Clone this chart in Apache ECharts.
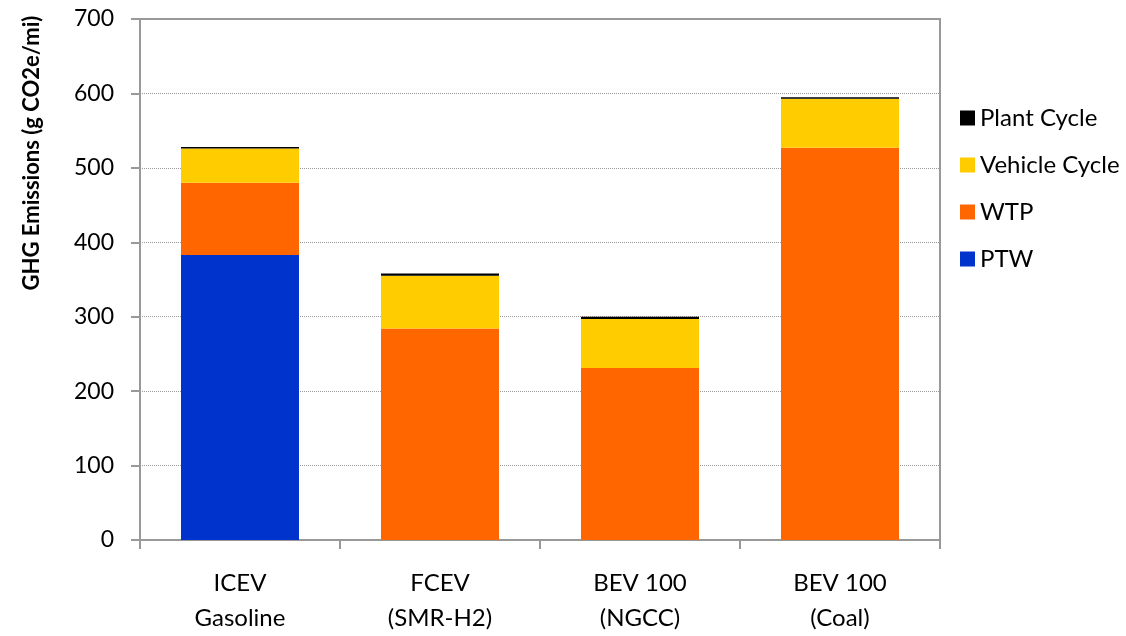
<!DOCTYPE html>
<html>
<head>
<meta charset="utf-8">
<title>GHG Emissions</title>
<script src="https://cdn.jsdelivr.net/npm/echarts@6/dist/echarts.min.js"></script>
<style>
  html, body { margin: 0; padding: 0; background: #fff; }
  #main { width: 1126px; height: 636px; }
</style>
</head>
<body>
<div id="main"></div>
<script>
// 车型（类目）
const categories = ['ICEV\nGasoline', 'FCEV\n(SMR-H2)', 'BEV 100\n(NGCC)', 'BEV 100\n(Coal)'];
// 各部分排放（g CO2e/mi），自下而上堆叠
const ptw = [383, 0, 0, 0];
const wtp = [97, 284, 231, 527];
const vehicleCycle = [46, 71, 66, 66];
const plantCycle = [2, 3, 3, 2];
const yTicks = [0, 100, 200, 300, 400, 500, 600, 700];

const font = 'Lato, "Open Sans", sans-serif';
const chart = echarts.init(document.getElementById('main'));

function barSeries(name, data, color) {
  return {
    name: name,
    type: 'bar',
    stack: 'total',
    barWidth: '59%',
    data: data,
    itemStyle: { color: color },
    emphasis: { disabled: true }
  };
}

let option = {
  animation: false,
  textStyle: { fontFamily: font },
  grid: {
    left: 140,
    right: 186,
    top: 19,
    bottom: 91,
    show: true,
    borderColor: '#999',
    borderWidth: 2
  },
  legend: {
    orient: 'vertical',
    left: 955,
    top: 101,
    itemWidth: 15,
    itemHeight: 15,
    itemGap: 23,
    icon: 'rect',
    // 图例顺序与堆叠顺序相反
    data: ['Plant Cycle', 'Vehicle Cycle', 'WTP', 'PTW'],
    textStyle: { fontFamily: font, fontSize: 24, color: '#000' }
  },
  graphic: [
    {
      type: 'text',
      x: 32,
      y: 153,
      rotation: Math.PI / 2,
      style: {
        text: 'GHG Emissions (g CO2e/mi)',
        font: 'bold 22px ' + font,
        fill: '#000',
        align: 'center',
        verticalAlign: 'middle'
      }
    }
  ],
  xAxis: {
    type: 'category',
    data: categories,
    axisLine: { lineStyle: { color: '#999', width: 2 } },
    axisTick: { show: true, length: 9, lineStyle: { color: '#999', width: 2 } },
    axisLabel: {
      fontFamily: font,
      fontSize: 24,
      lineHeight: 35,
      color: '#000',
      margin: 26
    }
  },
  yAxis: {
    type: 'value',
    min: yTicks[0],
    max: yTicks[yTicks.length - 1],
    interval: 100,
    axisLine: { show: true, lineStyle: { color: '#999', width: 2 } },
    axisTick: { show: true, length: 9, lineStyle: { color: '#999', width: 2 } },
    axisLabel: {
      fontFamily: font,
      fontSize: 23,
      color: '#000',
      margin: 26
    },
    splitLine: { lineStyle: { color: '#999', type: 'dotted', width: 1 } }
  },
  series: [
    barSeries('PTW', ptw, '#0033CC'),
    barSeries('WTP', wtp, '#FF6600'),
    barSeries('Vehicle Cycle', vehicleCycle, '#FFCC00'),
    barSeries('Plant Cycle', plantCycle, '#000000')
  ]
};

chart.setOption(option);
</script>
</body>
</html>
